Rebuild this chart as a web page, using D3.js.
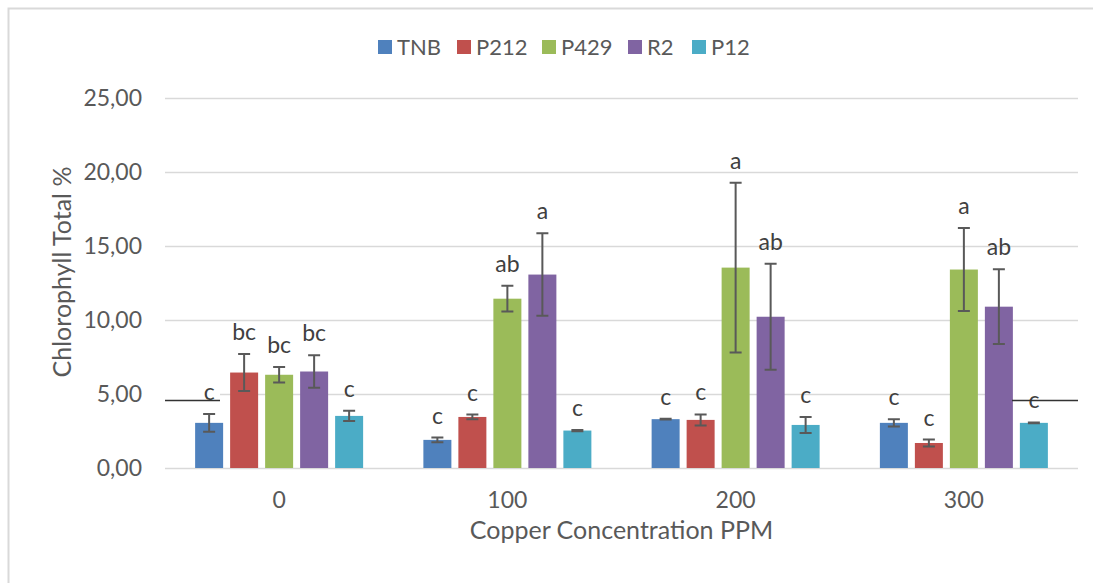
<!DOCTYPE html>
<html>
<head>
<meta charset="utf-8">
<script src="https://cdn.jsdelivr.net/npm/d3@7"></script>
<style>
  body { margin: 0; background: #fff; }
  text { font-family: Lato, "Open Sans", sans-serif; fill: #595959; }
</style>
</head>
<body>
<script>
// chart data
var concentrations = ["0", "100", "200", "300"];
var seriesNames = ["TNB", "P212", "P429", "R2", "P12"];
var colors = ["#4F81BD", "#C0504D", "#9BBB59", "#8064A2", "#4BACC6"];

// mean values per series, one entry per concentration
var tnbValues  = [3.05, 1.90, 3.30, 3.05];
var p212Values = [6.45, 3.45, 3.25, 1.69];
var p429Values = [6.30, 11.44, 13.54, 13.41];
var r2Values   = [6.52, 13.07, 10.22, 10.90];
var p12Values  = [3.52, 2.53, 2.91, 3.05];

// error bar half widths
var tnbErr  = [0.60, 0.16, 0.03, 0.25];
var p212Err = [1.25, 0.16, 0.37, 0.23];
var p429Err = [0.52, 0.87, 5.74, 2.81];
var r2Err   = [1.10, 2.79, 3.58, 2.53];
var p12Err  = [0.34, 0.04, 0.54, 0.03];

// significance letters
var tnbLetters  = ["c", "c", "c", "c"];
var p212Letters = ["bc", "c", "c", "c"];
var p429Letters = ["bc", "ab", "a", "a"];
var r2Letters   = ["bc", "a", "ab", "ab"];
var p12Letters  = ["c", "c", "c", "c"];

var yTicks = [0, 5, 10, 15, 20, 25];

var allValues = [tnbValues, p212Values, p429Values, r2Values, p12Values];
var allErr = [tnbErr, p212Err, p429Err, r2Err, p12Err];
var allLetters = [tnbLetters, p212Letters, p429Letters, r2Letters, p12Letters];

var width = 1093, height = 583;
var margin = { top: 98, right: 15, bottom: 115, left: 165 };
var plotW = width - margin.left - margin.right;
var plotH = height - margin.top - margin.bottom;

var svg = d3.select("body").append("svg")
    .attr("width", width)
    .attr("height", height);

// chart frame (only top and left edges show)
svg.append("path")
    .attr("d", "M8.5,583 L8.5,8.5 L1093,8.5")
    .attr("fill", "none")
    .attr("stroke", "#D9D9D9")
    .attr("stroke-width", 2);

var g = svg.append("g")
    .attr("transform", "translate(" + margin.left + "," + margin.top + ")");

var x0 = d3.scaleBand().domain(concentrations).range([0, plotW]).paddingInner(0).paddingOuter(0);
var groupInner = 175;
var x1 = d3.scaleBand().domain(seriesNames)
    .range([(x0.bandwidth() - groupInner) / 2, (x0.bandwidth() + groupInner) / 2])
    .paddingInner(0.2).paddingOuter(0.1);
var y = d3.scaleLinear().domain([0, 25]).range([plotH, 0]);

// gridlines
g.selectAll(".grid")
    .data(yTicks)
    .enter().append("line")
    .attr("class", "grid")
    .attr("x1", 0)
    .attr("x2", plotW)
    .attr("y1", function (d) { return Math.round(y(d)) + 0.5; })
    .attr("y2", function (d) { return Math.round(y(d)) + 0.5; })
    .attr("stroke", "#D9D9D9")
    .attr("stroke-width", 1.5);

// y tick labels
g.selectAll(".ytick")
    .data(yTicks)
    .enter().append("text")
    .attr("class", "ytick")
    .attr("x", -23)
    .attr("y", function (d) { return y(d); })
    .attr("dy", "0.35em")
    .attr("text-anchor", "end")
    .style("font-size", "23px")
    .text(function (d) { return d3.format(".2f")(d).replace(".", ","); });

// stray black marker lines on the original (white backing hides the grid)
var strayLines = [[0, 55], [plotW - 66, plotW]];
strayLines.forEach(function (s) {
    g.append("rect")
        .attr("x", s[0])
        .attr("y", y(5) - 3)
        .attr("width", s[1] - s[0])
        .attr("height", 9)
        .attr("fill", "#fff");
});

// bars
var flat = [];
concentrations.forEach(function (c, ci) {
    seriesNames.forEach(function (s, si) {
        flat.push({
            conc: c, series: s, color: colors[si],
            value: allValues[si][ci], err: allErr[si][ci], letter: allLetters[si][ci]
        });
    });
});

var bars = g.selectAll(".bar")
    .data(flat)
    .enter().append("g")
    .attr("class", "bar")
    .attr("transform", function (d) { return "translate(" + x0(d.conc) + ",0)"; });

bars.append("rect")
    .attr("x", function (d) { return x1(d.series); })
    .attr("y", function (d) { return y(d.value); })
    .attr("width", x1.bandwidth())
    .attr("height", function (d) { return plotH - y(d.value); })
    .attr("fill", function (d) { return d.color; });

// error bars
var capW = 6;
bars.append("path")
    .attr("d", function (d) {
        var cx = x1(d.series) + x1.bandwidth() / 2;
        var yt = y(d.value + d.err), yb = y(d.value - d.err);
        return "M" + cx + "," + yt + "L" + cx + "," + yb +
            "M" + (cx - capW) + "," + yt + "L" + (cx + capW) + "," + yt +
            "M" + (cx - capW) + "," + yb + "L" + (cx + capW) + "," + yb;
    })
    .attr("fill", "none")
    .attr("stroke", "#595959")
    .attr("stroke-width", 2);

// letters
bars.append("text")
    .attr("x", function (d) { return x1(d.series) + x1.bandwidth() / 2; })
    .attr("y", function (d) { return y(d.value + d.err) - 14; })
    .attr("text-anchor", "middle")
    .style("font-size", "23px")
    .style("fill", "#404040")
    .text(function (d) { return d.letter; });

strayLines.forEach(function (s) {
    g.append("line")
        .attr("x1", s[0])
        .attr("x2", s[1])
        .attr("y1", y(5) + 6.5)
        .attr("y2", y(5) + 6.5)
        .attr("stroke", "#333")
        .attr("stroke-width", 1.5);
});

// x tick labels
g.selectAll(".xtick")
    .data(concentrations)
    .enter().append("text")
    .attr("class", "xtick")
    .attr("x", function (d) { return x0(d) + x0.bandwidth() / 2; })
    .attr("y", plotH + 40)
    .attr("text-anchor", "middle")
    .style("font-size", "23px")
    .text(function (d) { return d; });

// axis titles
g.append("text")
    .attr("x", plotW / 2)
    .attr("y", plotH + 71)
    .attr("text-anchor", "middle")
    .style("font-size", "25px")
    .text("Copper Concentration PPM");

svg.append("text")
    .attr("transform", "translate(71," + 272 + ") rotate(-90)")
    .attr("text-anchor", "middle")
    .style("font-size", "25px")
    .text("Chlorophyll Total %");

// legend
var legendX = [378, 457, 542, 628, 692];
var legend = svg.selectAll(".legend")
    .data(seriesNames)
    .enter().append("g")
    .attr("class", "legend")
    .attr("transform", function (d, i) { return "translate(" + legendX[i] + ",40)"; });

legend.append("rect")
    .attr("width", 14)
    .attr("height", 14)
    .attr("fill", function (d, i) { return colors[i]; });

legend.append("text")
    .attr("x", 19)
    .attr("y", 7)
    .attr("dy", "0.36em")
    .style("font-size", "22px")
    .text(function (d) { return d; });
</script>
</body>
</html>
